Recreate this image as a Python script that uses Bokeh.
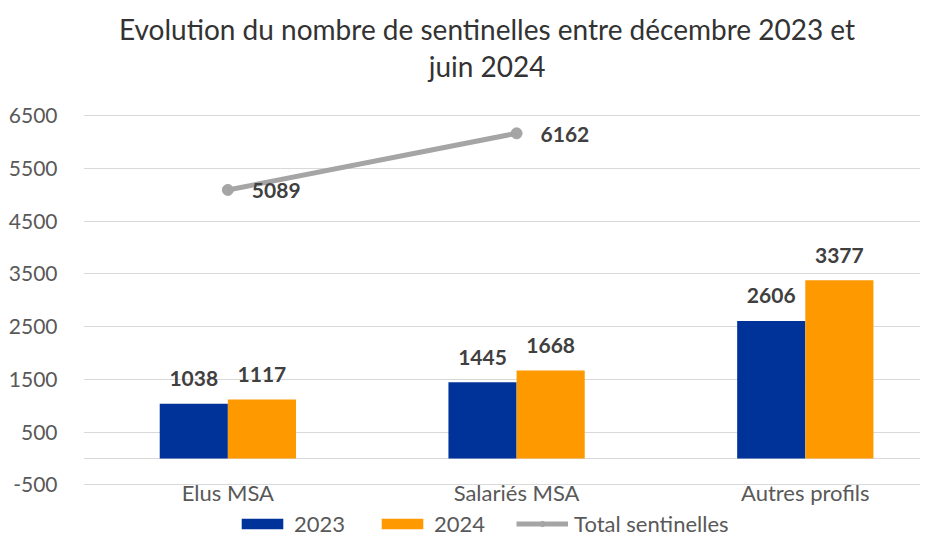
from bokeh.plotting import figure
from bokeh.models import (ColumnDataSource, Range1d, FixedTicker, Legend, LegendItem, Label)
from bokeh.transform import dodge
from bokeh.core.properties import value
from bokeh.embed import file_html
from bokeh.resources import INLINE

# ---- data ----
categories = ["Elus MSA", "Salariés MSA", "Autres profils"]
values_2023 = [1038, 1445, 2606]
values_2024 = [1117, 1668, 3377]
total_categories = ["Elus MSA", "Salariés MSA"]
total_values = [5089, 6162]
y_ticks = [-500, 500, 1500, 2500, 3500, 4500, 5500, 6500]
series_names = ["2023", "2024", "Total sentinelles"]
title_lines = ["Evolution du nombre de sentinelles entre décembre 2023 et", "juin 2024"]

# ---- style / layout ----
FONT = "Lato"
BLUE = "#003399"
ORANGE = "#FF9900"
GRAY = "#A5A5A5"
GRID = "#D9D9D9"
AXIS_TXT = "#595959"
LABEL_TXT = "#404040"
TITLE_TXT = "#333333"
BAR_W = 0.236
W, H = 920, 538

# the frame covers the whole figure height; the value scale is pinned so that
# the 6500 gridline sits at pixel row 115 and the -500 gridline at row 484.3
PX_TOP_TICK = 115.0
PX_LOW_TICK = 484.3
units_per_px = (y_ticks[-1] - y_ticks[0]) / (PX_LOW_TICK - PX_TOP_TICK)


def y_at(px):
    return y_ticks[-1] + (PX_TOP_TICK - px) * units_per_px


xpos = [i + 0.5 for i in range(len(categories))]
src = ColumnDataSource(dict(
    x=xpos, v23=values_2023, v24=values_2024,
    l23=[str(v) for v in values_2023], l24=[str(v) for v in values_2024],
))
cat_src = ColumnDataSource(dict(x=xpos, name=categories))
tot_src = ColumnDataSource(dict(
    x=[categories.index(c) + 0.5 for c in total_categories],
    y=total_values, lab=[str(v) for v in total_values],
))

p = figure(width=W, height=H, x_range=Range1d(0, 2.899), y_range=Range1d(y_at(H), y_at(0)),
           output_backend="svg", toolbar_location=None,
           min_border_left=83, min_border_right=0, min_border_top=0, min_border_bottom=0)
p.outline_line_color = None
p.background_fill_color = "white"
p.border_fill_color = "white"

# grid
p.xgrid.visible = False
p.ygrid.ticker = FixedTicker(ticks=[-500, 0] + y_ticks[1:])
p.ygrid.grid_line_color = GRID
p.ygrid.grid_line_width = 1

# y axis
p.yaxis.ticker = FixedTicker(ticks=y_ticks)
p.yaxis.major_label_overrides = {t: str(t) for t in y_ticks}
p.yaxis.axis_line_color = None
p.yaxis.major_tick_line_color = None
p.yaxis.minor_tick_line_color = None
p.yaxis.major_tick_out = 0
p.yaxis.major_label_standoff = 26
p.yaxis.major_label_text_font = FONT
p.yaxis.major_label_text_font_size = "21px"
p.yaxis.major_label_text_color = AXIS_TXT

# x axis: category names drawn just under the -500 gridline
p.xaxis.visible = False
p.text("x", y_at(492), text="name", source=cat_src, text_align="center",
       text_baseline="middle", text_font=value(FONT), text_font_size="22px",
       text_color=AXIS_TXT)

# bars
r23 = p.vbar(x=dodge("x", -BAR_W / 2), top="v23", bottom=0, width=BAR_W, source=src,
             fill_color=BLUE, line_color=None)
r24 = p.vbar(x=dodge("x", BAR_W / 2), top="v24", bottom=0, width=BAR_W, source=src,
             fill_color=ORANGE, line_color=None)

lab_kw = dict(text_align="center", text_baseline="middle", y_offset=-25,
              text_font=value(FONT), text_font_style="bold", text_font_size="21px",
              text_color=LABEL_TXT)
p.text(x=dodge("x", -BAR_W / 2), y="v23", text="l23", source=src, **lab_kw)
p.text(x=dodge("x", BAR_W / 2), y="v24", text="l24", source=src, **lab_kw)

# total line
rl = p.line("x", "y", source=tot_src, line_width=5, line_color=GRAY)
rs = p.scatter("x", "y", source=tot_src, size=11, fill_color=GRAY, line_color=GRAY)
p.text("x", "y", text="lab", source=tot_src, text_align="left", text_baseline="middle",
       x_offset=24, y_offset=1, text_font=value(FONT), text_font_style="bold",
       text_font_size="21px", text_color=LABEL_TXT)

# title (two centred lines)
TITLE_X = 0.5 + (487 - 228) / 288.5
for line, px in zip(title_lines, [28, 65]):
    p.add_layout(Label(x=TITLE_X, y=y_at(px), text=line, text_align="center",
                       text_baseline="middle", text_font=FONT, text_font_size="28px",
                       text_color=TITLE_TXT))

# legend (inside the frame, along the bottom edge)
legend = Legend(items=[
    LegendItem(label=series_names[0], renderers=[r23]),
    LegendItem(label=series_names[1], renderers=[r24]),
    LegendItem(label=series_names[2], renderers=[rl, rs]),
], orientation="horizontal", location=(153, 1), glyph_width=52, glyph_height=13,
    label_standoff=6, spacing=31, padding=0, margin=0,
    border_line_color=None, background_fill_alpha=0,
    label_text_font=FONT, label_text_font_size="22px", label_text_color=AXIS_TXT)
p.add_layout(legend)

open("out.html", "w").write(file_html(p, INLINE))
